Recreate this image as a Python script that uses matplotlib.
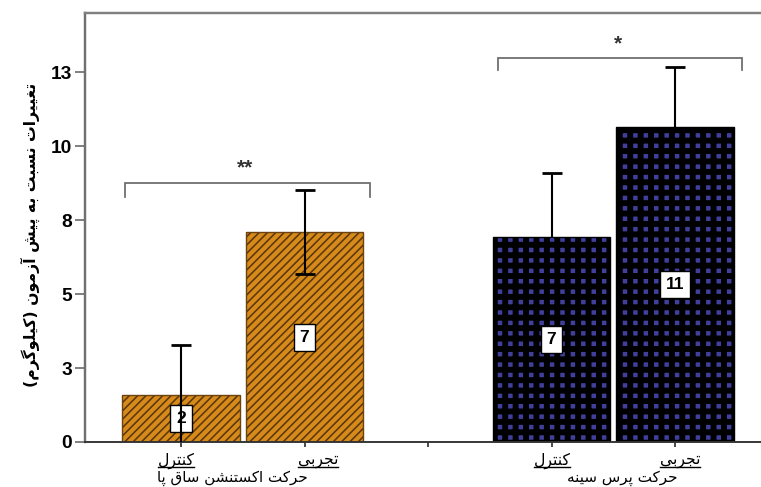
import matplotlib as mpl
mpl.use('Agg')
import matplotlib.pyplot as plt
from matplotlib.lines import Line2D

# ---------------- data ----------------
group_names = ['حرکت اکستنشن ساق پا', 'حرکت پرس سینه']
cond_names = ['کنترل', 'تجربی']
positions = [0, 1, 3, 4]           # category slots (slot 2 is the empty gap)
gap_slot = 2
means = [1.60, 7.09, 6.93, 10.64]
errors = [1.69, 1.42, 2.16, 2.03]
value_labels = ['2', '7', '7', '11']
ytick_values = [0, 2.5, 5, 7.5, 10, 12.5]
ytick_labels = ['0', '3', '5', '8', '10', '13']
ylabel = 'تغییرات نسبت به پیش آزمون (کیلوگرم)'
sig_marks = ['**', '*']

# ---------------- simple Persian shaping ----------------
FORMS = {
    '\u0627': ('\uFE8D', '\uFE8E', None, None),
    '\u0622': ('\uFE81', '\uFE82', None, None),
    '\u0628': ('\uFE8F', '\uFE90', '\uFE91', '\uFE92'),
    '\u067E': ('\uFB56', '\uFB57', '\uFB58', '\uFB59'),
    '\u062A': ('\uFE95', '\uFE96', '\uFE97', '\uFE98'),
    '\u062C': ('\uFE9D', '\uFE9E', '\uFE9F', '\uFEA0'),
    '\u062D': ('\uFEA1', '\uFEA2', '\uFEA3', '\uFEA4'),
    '\u0631': ('\uFEAD', '\uFEAE', None, None),
    '\u0632': ('\uFEAF', '\uFEB0', None, None),
    '\u0633': ('\uFEB1', '\uFEB2', '\uFEB3', '\uFEB4'),
    '\u0634': ('\uFEB5', '\uFEB6', '\uFEB7', '\uFEB8'),
    '\u063A': ('\uFECD', '\uFECE', '\uFECF', '\uFED0'),
    '\u0642': ('\uFED5', '\uFED6', '\uFED7', '\uFED8'),
    '\u06A9': ('\uFB8E', '\uFB8F', '\uFB90', '\uFB91'),
    '\u06AF': ('\uFB92', '\uFB93', '\uFB94', '\uFB95'),
    '\u0644': ('\uFEDD', '\uFEDE', '\uFEDF', '\uFEE0'),
    '\u0645': ('\uFEE1', '\uFEE2', '\uFEE3', '\uFEE4'),
    '\u0646': ('\uFEE5', '\uFEE6', '\uFEE7', '\uFEE8'),
    '\u0647': ('\uFEE9', '\uFEEA', '\uFEEB', '\uFEEC'),
    '\u0648': ('\uFEED', '\uFEEE', None, None),
    '\u06CC': ('\uFBFC', '\uFBFD', '\uFBFE', '\uFBFF'),
}


def shape(s):
    s = s.replace('\u0643', '\u06A9').replace('\u064A', '\u06CC').replace('\u200c', ' ')
    out = []
    n = len(s)
    for i, c in enumerate(s):
        if c not in FORMS:
            out.append(c)
            continue
        f = FORMS[c]
        prev = s[i - 1] if i > 0 else ''
        nxt = s[i + 1] if i + 1 < n else ''
        jp = prev in FORMS and FORMS[prev][2] is not None
        jn = f[2] is not None and nxt in FORMS
        if jp and jn:
            out.append(f[3])
        elif jp:
            out.append(f[1])
        elif jn:
            out.append(f[2])
        else:
            out.append(f[0])
    vis = ''.join(reversed(out))
    return vis.translate(str.maketrans('()', ')('))


# ---------------- figure ----------------
DPI = 125
W, H = 761, 487
fig = plt.figure(figsize=(W / DPI, H / DPI), dpi=DPI)
left_px, right_px, top_px, bot_px = 85, 775, 13, 442
ax = fig.add_axes([left_px / W, 1 - bot_px / H, (right_px - left_px) / W, (bot_px - top_px) / H])

spacing = 123.5
ax.set_xlim(-(181 - left_px) / spacing, (right_px - 181) / spacing)
ax.set_ylim(0, 14.5)

bar_w = 0.955
styles = [
    dict(face='#D68A1C', hatch='/////', hcolor='#5A3608', hlw=0.9, edge='#6B4310', ez=4),
    dict(face='#40409C', hatch='++', hcolor='#000000', hlw=3.4, edge='#000000', ez=1.5),
]
for gi in range(2):
    st = styles[gi]
    xs = positions[gi * 2: gi * 2 + 2]
    ys = means[gi * 2: gi * 2 + 2]
    es = errors[gi * 2: gi * 2 + 2]
    with mpl.rc_context({'hatch.linewidth': st['hlw']}):
        bars = ax.bar(xs, ys, width=bar_w, color=st['face'], edgecolor=st['hcolor'],
                      hatch=st['hatch'], linewidth=0, zorder=2)
        for b in bars:
            if hasattr(b, 'set_hatch_linewidth'):
                b.set_hatch_linewidth(st['hlw'])
    ax.bar(xs, ys, width=bar_w, fill=False, edgecolor=st['edge'], linewidth=0.8, zorder=2.5)
    ax.errorbar(xs, ys, yerr=es, fmt='none', ecolor='black', elinewidth=1.2,
                capsize=5.5, capthick=1.6, zorder=st['ez'])

for x, y, lab in zip(positions, means, value_labels):
    ax.text(x, y / 2, lab, ha='center', va='center', fontsize=10, fontweight='bold',
            family='Liberation Sans', zorder=3,
            bbox=dict(boxstyle='square,pad=0.35', fc='white', ec='black', lw=0.8))

# significance brackets
sig_spans = [(positions[0] - 0.45, positions[1] + 0.53, 8.75, 8.28),
             (positions[2] - 0.43, positions[3] + 0.54, 12.97, 12.57)]
for (x0, x1, yt, yb), mark in zip(sig_spans, sig_marks):
    ax.plot([x0, x0, x1, x1], [yb, yt, yt, yb], color='#6a6a6a', lw=1.0, zorder=3,
            solid_joinstyle='miter')
    ax.text((x0 + x1) / 2 - 0.02, yt + 0.5, mark, ha='center', va='center', fontsize=12,
            fontweight='bold', family='Liberation Sans', color='#333333')

# axes styling
ax.spines['right'].set_visible(False)
ax.spines['left'].set_color('#707070')
ax.spines['top'].set_color('#808080')
ax.spines['left'].set_linewidth(1.4)
ax.spines['top'].set_linewidth(1.4)
ax.spines['bottom'].set_color('#333333')
ax.spines['bottom'].set_linewidth(1.1)

ax.set_yticks(ytick_values)
ax.set_yticklabels(ytick_labels, fontsize=11, fontweight='bold', family='Liberation Sans')
ax.tick_params(axis='y', length=6, width=1, color='#707070', pad=1.5)
ax.set_xticks(positions[:2] + [gap_slot] + positions[2:])
ax.set_xticklabels([])
ax.tick_params(axis='x', length=3, width=1, color='#333333')

# y label
fig.text(30 / W, 1 - 235 / H, shape(ylabel), rotation=90, ha='center', va='center',
         fontsize=9, fontweight='bold', family='DejaVu Sans')

# category labels (underlined) and group labels
cat_texts = []
cat_x = [176, 318, 552, 680]
for i, px in enumerate(cat_x):
    t = fig.text(px / W, 1 - 461 / H, shape(cond_names[i % 2]), ha='center', va='center',
                 fontsize=9, family='DejaVu Sans')
    cat_texts.append(t)
group_x = [232, 622]
for gx, g in zip(group_x, group_names):
    fig.text(gx / W, 1 - 478 / H, shape(g), ha='center', va='center', fontsize=8.7,
             family='DejaVu Sans')

fig.canvas.draw()
for t in cat_texts:
    bb = t.get_window_extent()
    yline = bb.y0 + 2
    fig.add_artist(Line2D([bb.x0 / W, bb.x1 / W], [yline / H, yline / H],
                          transform=fig.transFigure, color='black', lw=0.8))

fig.savefig('out.png', dpi=DPI)
